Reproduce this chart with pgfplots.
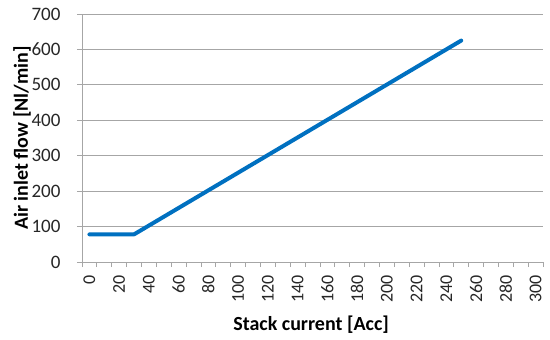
\documentclass[border=0pt]{standalone}
\usepackage{fontspec}
\setmainfont{Carlito}
\usepackage{pgfplots}
\pgfplotsset{compat=1.18}
\definecolor{xlblue}{HTML}{0070C0}
\definecolor{xlgrid}{HTML}{A6A6A6}
\definecolor{xltext}{HTML}{262626}
\begin{document}
\begin{tikzpicture}
\begin{axis}[
  scale only axis,
  width=461bp, height=248bp,
  xmin=-5, xmax=305,
  ymin=0, ymax=700,
  axis lines=left,
  axis line style={draw=xlgrid, line width=0.8bp, -},
  xtick={0,20,...,300},
  minor xtick={-5,5,...,305},
  ytick={0,100,...,700},
  major x tick style={draw=none},
  minor tick length=5bp,
  major tick length=5bp,
  tick align=outside,
  tick style={draw=xlgrid, line width=0.8bp},
  ymajorgrids=true,
  grid style={draw=xlgrid, line width=0.8bp},
  /pgf/number format/assume math mode=true,
  /pgf/number format/1000 sep={},
  ticklabel style={font=\fontsize{18bp}{21bp}\selectfont, text=xltext},
  x tick label style={rotate=90, anchor=east, xshift=-5bp},
  yticklabel style={xshift=-13bp, font=\fontsize{19bp}{22bp}\selectfont},
  xlabel={\textbf{Stack current [Acc]}},
  ylabel={\textbf{Air inlet flow [Nl/min]}},
  label style={font=\fontsize{20bp}{23bp}\selectfont, text=black},
  xlabel style={at={(axis description cs:0.497,-0.254)}, anchor=center},
  ylabel style={at={(axis description cs:-0.130,0.5)}, anchor=center},
  clip=false,
]
\addplot[xlblue, line width=4bp, line cap=round, line join=round]
  coordinates {(0,78) (30,78) (250,625)};
\end{axis}
\pgfresetboundingbox
\path[use as bounding box] (current axis.south west) ++(-82bp,-78bp) rectangle ++(550bp,340bp);
\end{tikzpicture}
\end{document}
